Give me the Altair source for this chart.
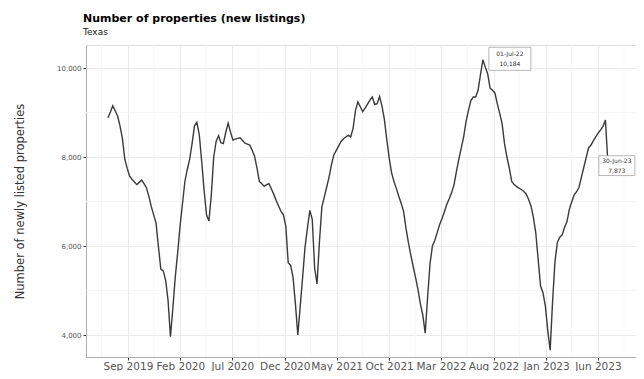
import altair as alt
import pandas as pd

# Weekly new listings, Texas
start_date = "2019-07-05"
values = [
    8880, 9010, 9150, 9040, 8920, 8700, 8420, 7950, 7750, 7570, 7500, 7440, 7380,
    7430, 7480, 7400, 7310, 7120, 6890, 6700, 6520, 5980, 5480, 5440, 5230, 4780,
    3960, 4600, 5300, 5850, 6450, 6950, 7450, 7720, 7950, 8300, 8700, 8780, 8500,
    7900, 7250, 6700, 6560, 7150, 8000, 8350, 8480, 8320, 8300, 8550, 8760, 8560,
    8380, 8400, 8420, 8430, 8370, 8310, 8290, 8270, 8150, 8020, 7750, 7450, 7400,
    7340, 7380, 7400, 7280, 7160, 7020, 6900, 6780, 6700, 6450, 5620, 5570, 5300,
    4700, 4000, 4650, 5300, 5980, 6400, 6800, 6600, 5500, 5150, 6100, 6880, 7100,
    7320, 7550, 7830, 8050, 8150, 8250, 8350, 8410, 8450, 8490, 8450, 8650, 9050,
    9240, 9130, 9020, 9100, 9190, 9280, 9350, 9180, 9200, 9360, 9150, 8850, 8400,
    7980, 7650, 7450, 7290, 7120, 6960, 6780, 6400, 6080, 5800, 5540, 5290, 5020,
    4700, 4450, 4040, 4850, 5600, 6000, 6130, 6300, 6480, 6620, 6770, 6940, 7060,
    7200, 7380, 7680, 7950, 8200, 8450, 8800, 9050, 9270, 9350, 9350, 9500, 9850,
    10184, 10020, 9870, 9550, 9500, 9440, 9200, 8980, 8750, 8300, 8000, 7750, 7450,
    7380, 7340, 7300, 7270, 7230, 7170, 7050, 6900, 6650, 6300, 5700, 5100, 4950,
    4650, 4100, 3660, 4750, 5650, 6080, 6200, 6250, 6420, 6550, 6830, 7000, 7150,
    7220, 7320, 7550, 7770, 7990, 8210, 8270, 8370, 8460, 8540, 8610, 8690, 8830,
    7873,
]
dates = pd.date_range(start_date, periods=len(values), freq="7D")

# Axis tick dates (every five months) and minor grid dates
tick_dates = [(2019, 9), (2020, 2), (2020, 7), (2020, 12), (2021, 5),
              (2021, 10), (2022, 3), (2022, 8), (2023, 1), (2023, 6)]
minor_x = ["2019-06-16", "2019-11-16", "2020-04-16", "2020-09-16", "2021-02-14",
           "2021-07-16", "2021-12-16", "2022-05-16", "2022-10-16", "2023-03-16",
           "2023-08-16"]
major_y = [4000, 6000, 8000, 10000]
minor_y = [5000, 7000, 9000]
x_domain = ["2019-05-02", "2023-09-20"]
y_domain = [3506, 10517]

df = pd.DataFrame({"date": dates.strftime("%Y-%m-%d"), "value": values})

peak_i = int(pd.Series(values).idxmax())
last_i = len(values) - 1
def fmt_date(d):
    return d.strftime("%d-%b-%y")
ann = pd.DataFrame({
    "date": [df["date"][peak_i], df["date"][last_i]],
    "value": [values[peak_i], values[last_i]],
    "l1": [fmt_date(dates[peak_i]), fmt_date(dates[last_i])],
    "l2": [f"{values[peak_i]:,}", f"{values[last_i]:,}"],
    "which": ["peak", "last"],
})

xscale = alt.Scale(type="utc", domain=x_domain)
yscale = alt.Scale(domain=y_domain, nice=False, zero=False)

x_enc = alt.X("date:T", scale=xscale, title=None,
              axis=alt.Axis(values=[alt.DateTime(year=y, month=m, date=1, utc=True) for y, m in tick_dates],
                            format="%b %Y", labelFontSize=10.5, labelColor="#555555",
                            tickColor="#333333", tickSize=3, domainColor="#b0b0b0",
                            gridColor="#ebebeb", labelPadding=1))
y_enc = alt.Y("value:Q", scale=yscale,
              title="Number of newly listed properties",
              axis=alt.Axis(values=major_y, format=",.0f", labelFontSize=7,
                            labelColor="#555555", tickColor="#333333", tickSize=3,
                            domainColor="#b0b0b0", gridColor="#ebebeb",
                            titleFontSize=11.5, titleFontWeight="normal",
                            titleColor="#333333", titlePadding=31))

minor_x_layer = alt.Chart(pd.DataFrame({"date": minor_x})).mark_rule(
    color="#f4f4f4", strokeWidth=0.8).encode(x=x_enc)
minor_y_layer = alt.Chart(pd.DataFrame({"value": minor_y})).mark_rule(
    color="#f4f4f4", strokeWidth=0.8).encode(y=y_enc)

line = alt.Chart(df).mark_line(color="#3a3a3a", strokeWidth=1.4).encode(x=x_enc, y=y_enc)

box_peak = alt.Chart(ann[ann.which == "peak"]).mark_point(
    shape="M-1,-0.55H1V0.55H-1Z", size=42 * 42, filled=True, fill="white",
    stroke="#999999", strokeWidth=0.7, opacity=1, xOffset=27, yOffset=-1
).encode(x=x_enc, y=y_enc)
box_last = alt.Chart(ann[ann.which == "last"]).mark_point(
    shape="M-1,-0.55H1V0.55H-1Z", size=36 * 36, filled=True, fill="white",
    stroke="#999999", strokeWidth=0.7, opacity=1, xOffset=9, yOffset=3
).encode(x=x_enc, y=y_enc)

txt_kw = dict(fontSize=6, color="#333333", align="center")
t_peak1 = alt.Chart(ann[ann.which == "peak"]).mark_text(dx=27, dy=-6, **txt_kw).encode(
    x=x_enc, y=y_enc, text="l1:N")
t_peak2 = alt.Chart(ann[ann.which == "peak"]).mark_text(dx=27, dy=4, **txt_kw).encode(
    x=x_enc, y=y_enc, text="l2:N")
t_last1 = alt.Chart(ann[ann.which == "last"]).mark_text(dx=9, dy=-2, **txt_kw).encode(
    x=x_enc, y=y_enc, text="l1:N")
t_last2 = alt.Chart(ann[ann.which == "last"]).mark_text(dx=9, dy=8, **txt_kw).encode(
    x=x_enc, y=y_enc, text="l2:N")

chart = alt.layer(
    minor_x_layer, minor_y_layer, line,
    box_peak, t_peak1, t_peak2, box_last, t_last1, t_last2
).properties(
    width=550, height=312,
    title=alt.TitleParams("Number of properties (new listings)", subtitle="Texas",
                          anchor="start", frame="group", fontSize=11, fontWeight="bold",
                          color="#000000", subtitleFontSize=9,
                          subtitleColor="#222222", offset=8, subtitlePadding=4,
                          dx=-3),
    autosize=alt.AutoSizeParams(type="none"),
    padding={"left": 78, "top": 37, "right": 0, "bottom": 14},
).configure_view(stroke="#dddddd", strokeWidth=1).configure(font="DejaVu Sans")

chart.save("out.html", embed_options={"renderer": "svg", "actions": False})
